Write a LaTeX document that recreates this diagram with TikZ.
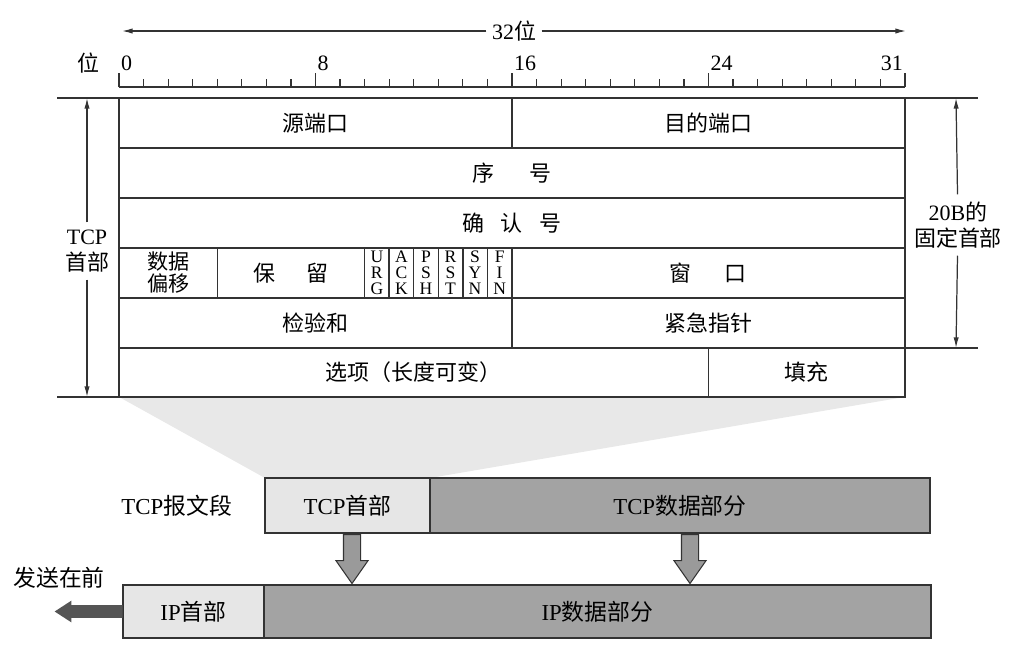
\documentclass[tikz,border=0pt]{standalone}
\usepackage{fontspec}
\setmainfont{Liberation Serif}
\newfontfamily\zh{Noto Sans CJK SC}
\usepackage{xcolor}
\usepackage{tikz}
\usetikzlibrary{positioning, arrows.meta, shapes.arrows, backgrounds}

\definecolor{hdrgray}{HTML}{E6E6E6}
\definecolor{datgray}{HTML}{A3A3A3}
\definecolor{trapgray}{HTML}{E8E8E8}
\definecolor{inkgray}{HTML}{333333}
\definecolor{arrgray}{HTML}{9A9A9A}
\definecolor{sendgray}{HTML}{555555}

\tikzset{
  field/.style={draw=inkgray, line width=0.8pt, inner sep=0pt, outer sep=0pt,
    minimum height=1cm, align=center, font=\fontsize{12.5}{14}\selectfont},
  flag/.style={field, minimum width=0.49125cm, font=\fontsize{10}{9.2}\selectfont},
  dim/.style={-{Latex[length=6pt,width=3pt]}, line width=0.7pt, draw=inkgray},
  ext/.style={line width=0.7pt, draw=inkgray},
  lbl/.style={inner sep=1pt, align=center, font=\fontsize{12.5}{15}\selectfont},
  seg/.style={draw=inkgray, line width=1.1pt, inner sep=0pt, outer sep=0pt,
    minimum height=1.1cm, font=\fontsize{13}{15}\selectfont},
  downarrow/.style={single arrow, draw=inkgray, fill=arrgray, line width=0.6pt,
    inner xsep=0pt, inner ysep=0.16cm, minimum height=0.98cm,
    single arrow head extend=0.15cm, single arrow tip angle=70,
    rotate=-90, anchor=tail},
  sendarrow/.style={single arrow, fill=sendgray, inner xsep=0pt, inner ysep=0.12cm,
    minimum height=1.36cm, single arrow head extend=0.09cm,
    single arrow tip angle=66, rotate=180, anchor=tail},
}

\begin{document}
\begin{tikzpicture}[x=0.02cm, y=-0.02cm]
  \useasboundingbox (0,0) rectangle (1025,667);

  % ruler
  \draw[ext] (119,87) -- (905,87);
  \foreach \i in {0,...,32}{
    \pgfmathsetmacro\tk{ifthenelse(mod(\i,8)==0,14,8)}
    \draw[ext] (119+\i*24.5625,87) -- ++(0,-\tk);
  }
  \foreach \i in {0,8,16,24}
    \node[lbl, anchor=south west] at (119+\i*24.5625,73) {\i};
  \node[lbl, anchor=south east] at (905,73) {31};
  \node[lbl] (wei) at (88,63) {\zh 位};

  \node[lbl, fill=white, inner sep=3pt] (w32) at (514,31) {32{\zh 位}};
  \coordinate (wl) at (122,31);
  \coordinate (wr) at (906,31);
  \draw[dim] (w32) -- (wl);
  \draw[dim] (w32) -- (wr);

  % header fields
  \node[field, anchor=north west, minimum width=7.86cm] (src) at (119,98) {\zh 源端口};
  \node[field, minimum width=7.86cm, right=0pt of src] (dst) {\zh 目的端口};
  \node[field, anchor=north west, minimum width=15.72cm] (seq) at (src.south west) {\zh 序\hspace{1.6em}号};
  \node[field, anchor=north west, minimum width=15.72cm] (ack) at (seq.south west) {\zh 确\hspace{0.75em}认\hspace{0.75em}号};
  \node[field, anchor=north west, minimum width=1.965cm, font=\fontsize{12}{12.5}\selectfont] (off) at (ack.south west) {\zh 数据\\\zh 偏移};
  \node[field, minimum width=2.9475cm, right=0pt of off] (rsv) {\zh 保\hspace{1.4em}留};
  \foreach \f/\t [remember=\f as \p (initially rsv)] in
      {furg/{U\\R\\G}, fack/{A\\C\\K}, fpsh/{P\\S\\H}, frst/{R\\S\\T}, fsyn/{S\\Y\\N}, ffin/{F\\I\\N}}
    \node[flag, right=0pt of \p] (\f) {\t};
  \node[field, minimum width=7.86cm, right=0pt of ffin] (win) {\zh 窗\hspace{1.5em}口};
  \node[field, anchor=north west, minimum width=7.86cm] (chk) at (off.south west) {\zh 检验和};
  \node[field, minimum width=7.86cm, right=0pt of chk] (uptr) {\zh 紧急指针};
  \node[field, anchor=north west, minimum width=11.79cm, minimum height=0.98cm] (opt) at (chk.south west) {\zh 选项（长度可变）};
  \node[field, minimum width=3.93cm, minimum height=0.98cm, right=0pt of opt] (pad) {\zh 填充};
  \draw[line width=1.4pt, inkgray] (src.north west) rectangle (pad.south east);

  % dimension marks
  \coordinate (lx) at (57,0);
  \coordinate (la) at (87,0);
  \coordinate (rx) at (978,0);
  \coordinate (ra) at (956,0);
  \draw[ext] (lx |- src.north west) -- (src.north west);
  \draw[ext] (lx |- opt.south west) -- (opt.south west);
  \node[lbl, fill=white, inner sep=4pt] (tcpl) at (87,251) {TCP\\\zh 首部};
  \draw[dim] (tcpl) -- (la |- src.north west);
  \draw[dim] (tcpl) -- (la |- opt.south west);

  \draw[ext] (dst.north east) -- (rx |- dst.north east);
  \draw[ext] (uptr.south east) -- (rx |- uptr.south east);
  \node[lbl, fill=white, inner sep=4pt] (fixl) at (958,225) {20B{\zh 的}\\\zh 固定首部};
  \draw[dim] (fixl) -- (ra |- dst.north east);
  \draw[dim] (fixl) -- (ra |- uptr.south east);

  % TCP segment and IP datagram
  \node[seg, fill=hdrgray, anchor=north west, minimum width=3.3cm] (tcph) at (265,478) {TCP{\zh 首部}};
  \node[seg, fill=datgray, minimum width=10cm, right=0pt of tcph] (tcpd) {TCP{\zh 数据部分}};
  \node[lbl, font=\fontsize{13}{15}\selectfont, left=0.62cm of tcph] (tcpseg) {TCP{\zh 报文段}};
  \node[seg, fill=hdrgray, anchor=north west, minimum width=2.82cm, minimum height=1.06cm] (iph) at (123,585) {IP{\zh 首部}};
  \node[seg, fill=datgray, minimum width=13.34cm, minimum height=1.06cm, right=0pt of iph] (ipd) {IP{\zh 数据部分}};

  \node[downarrow] (dn1) at (352,534) {};
  \node[downarrow] (dn2) at (690,534) {};
  \node[sendarrow] (send) at (iph.west) {};
  \node[lbl, font=\fontsize{13}{15}\selectfont] (sendl) at (59,578) {\zh 发送在前};

  \begin{scope}[on background layer]
    \fill[trapgray] (opt.south west) -- (tcph.north west) -- (tcpd.north west) -- (pad.south east) -- cycle;
  \end{scope}
\end{tikzpicture}
\end{document}
